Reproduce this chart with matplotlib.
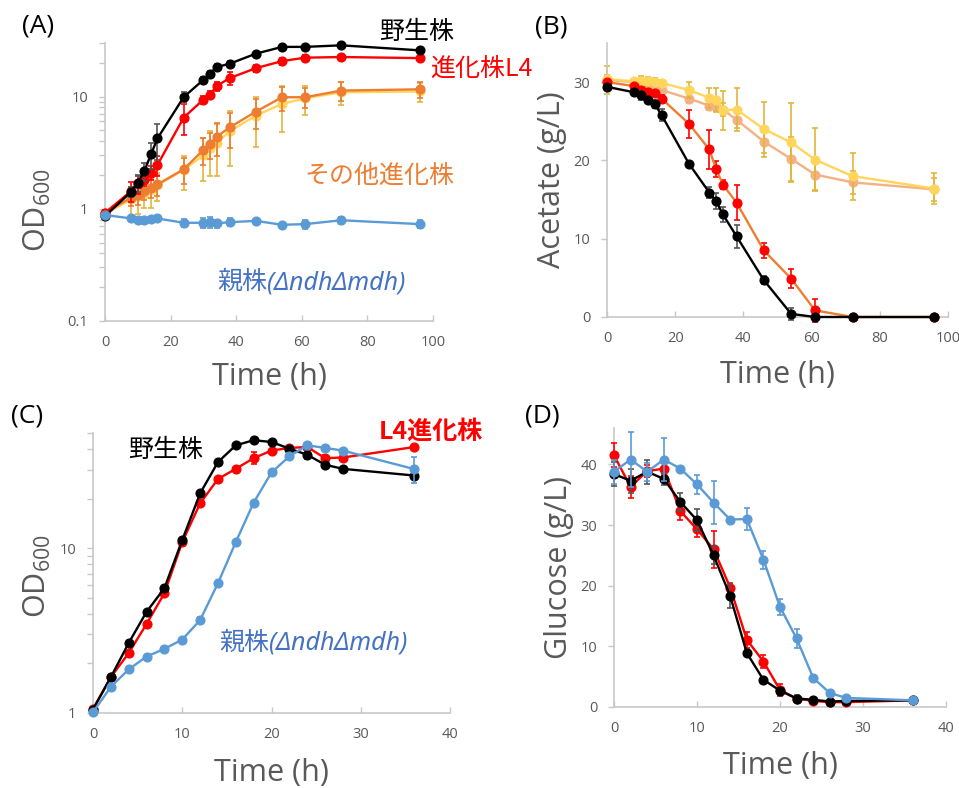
#!/usr/bin/env python3
"""Growth / substrate consumption of evolved strains (4 panels)."""

import matplotlib as mpl
import matplotlib.pyplot as plt
from matplotlib.offsetbox import AnnotationBbox, HPacker, TextArea
from matplotlib.ticker import FixedLocator, NullFormatter

W, H = 959, 788

BLACK = "#000000"
RED = "#ff0000"
ORANGE = "#ed7d31"
YELLOW = "#ffd55c"
YELLOW_ERR = "#e3b53a"
SALMON = "#f4b183"
BLUE = "#5b9bd5"
BLUE_TEXT = "#4472c4"
GRAY = "#595959"
AXIS_GRAY = "#c8c8c8"
CJK = ["Noto Sans CJK JP", "DejaVu Sans"]
LATIN = ["Open Sans", "DejaVu Sans"]

# (A) OD600 on acetate
A_TIME = [0, 8, 10, 12, 14, 16, 24, 30, 32, 34, 38, 46, 54, 61, 72, 96]
A_WT = [0.86, 1.42, 1.71, 2.17, 3.05, 4.24, 9.9, 14.1, 16.0, 18.3, 19.6, 24.1, 27.7, 27.7, 28.6, 25.8]
A_WT_ERR = [0.05, 0.15, 0.3, 0.4, 0.8, 1.5, 1.0, 0.8, 0.8, 1.0, 1.0, 1.0, 1.2, 1.0, 1.5, 1.5]
A_L4 = [0.92, 1.44, 1.65, 1.79, 2.1, 2.46, 6.5, 9.4, 10.4, 12.4, 14.6, 17.9, 20.7, 22.2, 22.5, 22.0]
A_L4_ERR = [0.05, 0.3, 0.3, 0.2, 0.3, 0.5, 2.0, 0.8, 0.8, 1.2, 2.0, 1.2, 1.5, 1.2, 1.0, 1.0]
A_OTHER1 = [0.92, 1.26, 1.34, 1.44, 1.54, 1.65, 2.25, 3.35, 3.77, 4.38, 5.31, 7.34, 9.86, 9.86, 11.3, 11.6]
A_OTHER1_ERR = [0.05, 0.2, 0.25, 0.25, 0.3, 0.35, 0.6, 0.9, 1.0, 1.4, 1.8, 2.2, 2.4, 2.0, 2.2, 1.8]
A_OTHER2 = [0.9, 1.21, 1.30, 1.36, 1.47, 1.62, 2.22, 3.0, 3.47, 3.85, 4.9, 6.76, 8.6, 9.66, 10.9, 11.1]
A_OTHER2_ERR = [0.08, 0.35, 0.4, 0.35, 0.45, 0.45, 0.75, 1.25, 1.5, 1.9, 2.5, 3.2, 3.8, 2.8, 2.5, 2.2]
A_PARENT = [0.88, 0.82, 0.80, 0.79, 0.81, 0.82, 0.75, 0.75, 0.76, 0.74, 0.76, 0.78, 0.72, 0.73, 0.79, 0.73]
A_PARENT_ERR = [0.03, 0.04, 0.03, 0.03, 0.04, 0.03, 0.06, 0.07, 0.08, 0.06, 0.06, 0.03, 0.03, 0.07, 0.06, 0.06]

# (B) acetate (g/L)
B_TIME = A_TIME
B_WT = [29.4, 28.7, 28.3, 27.7, 27.2, 25.8, 19.6, 15.9, 14.8, 13.1, 10.3, 4.7, 0.4, 0.0, 0.0, 0.0]
B_WT_ERR = [0.3, 0.4, 0.6, 0.4, 0.5, 0.8, 0.3, 0.7, 1.0, 1.0, 1.5, 0.5, 0.8, 0.1, 0.1, 0.1]
B_L4 = [30.0, 29.5, 29.0, 28.7, 28.6, 27.9, 24.7, 21.4, 18.9, 16.9, 14.6, 8.5, 4.9, 0.85, 0.0, 0.0]
B_L4_ERR = [0.3, 0.3, 0.3, 0.3, 0.3, 0.5, 1.8, 2.5, 1.0, 0.6, 2.2, 1.0, 1.2, 1.5, 0.0, 0.0]
B_OTHER1 = [30.3, 30.0, 29.8, 29.6, 29.4, 29.0, 27.9, 27.0, 26.9, 26.5, 25.2, 22.4, 20.2, 18.2, 17.2, 16.3]
B_OTHER1_ERR = [1.8, 0.3, 0.5, 0.5, 0.5, 0.5, 0.6, 0.6, 0.6, 0.8, 1.0, 1.5, 2.8, 2.0, 1.5, 1.5]
B_OTHER2 = [30.4, 30.1, 30.2, 30.1, 30.0, 29.9, 29.0, 28.0, 27.7, 26.4, 26.5, 24.0, 22.3, 20.1, 18.0, 16.4]
B_OTHER2_ERR = [0.5, 0.3, 0.6, 0.6, 0.5, 0.4, 1.0, 1.3, 1.5, 2.5, 2.8, 3.5, 5.0, 4.0, 3.0, 2.0]

# (C) OD600 on glucose
C_TIME = [0, 2, 4, 6, 8, 10, 12, 14, 16, 18, 20, 22, 24, 26, 28, 36]
C_WT = [1.05, 1.65, 2.66, 4.11, 5.72, 11.2, 21.5, 33.3, 42.1, 45.2, 44.1, 40.2, 36.9, 32.1, 30.3, 27.6]
C_WT_ERR = [0.02, 0.05, 0.08, 0.1, 0.15, 0.3, 0.6, 0.8, 1.0, 1.0, 1.5, 1.0, 2.0, 1.0, 0.8, 0.8]
C_L4 = [1.06, 1.65, 2.31, 3.47, 5.33, 10.9, 18.7, 26.3, 30.3, 35.2, 39.1, 40.6, 41.1, 35.2, 35.5, 41.1]
C_L4_ERR = [0.02, 0.05, 0.08, 0.12, 0.15, 0.3, 0.5, 0.8, 0.8, 3.0, 1.0, 1.0, 1.0, 1.5, 1.5, 0.8]
C_PARENT = [1.01, 1.44, 1.84, 2.2, 2.45, 2.79, 3.66, 6.13, 10.9, 18.9, 28.8, 36.1, 42.1, 40.6, 39.1, 30.2]
C_PARENT_ERR = [0.02, 0.04, 0.05, 0.05, 0.05, 0.06, 0.15, 0.15, 0.3, 0.5, 0.8, 1.5, 1.0, 1.0, 1.0, 5.5]

# (D) glucose (g/L)
D_TIME = C_TIME
D_WT = [38.4, 37.3, 38.8, 37.6, 33.8, 30.8, 25.0, 18.3, 8.9, 4.5, 2.7, 1.4, 1.2, 0.9, 1.0, 1.1]
D_WT_ERR = [2.0, 2.0, 2.0, 1.0, 1.5, 1.8, 1.5, 2.0, 0.5, 0.5, 0.5, 0.5, 0.3, 0.3, 0.3, 0.3]
D_L4 = [41.5, 36.3, 38.9, 39.3, 32.3, 29.3, 26.0, 19.7, 11.1, 7.5, 2.8, 1.4, 1.0, 0.8, 0.8, 1.1]
D_L4_ERR = [2.0, 1.8, 1.0, 1.0, 1.5, 1.2, 3.0, 0.7, 1.3, 1.0, 1.0, 0.3, 0.2, 0.2, 0.2, 0.2]
D_PARENT = [38.8, 40.8, 38.8, 40.8, 39.3, 36.7, 33.7, 30.9, 31.0, 24.3, 16.5, 11.3, 4.8, 2.3, 1.5, 1.1]
D_PARENT_ERR = [2.0, 4.5, 1.5, 3.5, 0.3, 1.5, 3.5, 0.3, 1.8, 1.5, 1.3, 1.5, 0.3, 0.3, 0.2, 0.2]


def fig_xy(x, y):
    return x / W, 1 - y / H


def add_axes(fig, left, top, right, bottom):
    return fig.add_axes([left / W, 1 - bottom / H, (right - left) / W, (bottom - top) / H])


def series(ax, t, y, err, color, mcolor=None, ecolor=None, zorder=2):
    ax.errorbar(
        t, y, yerr=err, color=color, lw=1.7, marker="o", ms=6.3,
        mfc=mcolor or color, mec=mcolor or color,
        ecolor=ecolor or mcolor or color, elinewidth=1.2, capsize=2.5, capthick=1.2,
        zorder=zorder, clip_on=False,
    )


def style(ax, xlabel, ylabel, xlab_pos, ylab_pos):
    for s in ["top", "right"]:
        ax.spines[s].set_visible(False)
    for s in ["left", "bottom"]:
        ax.spines[s].set_color(AXIS_GRAY)
        ax.spines[s].set_linewidth(1.2)
    ax.tick_params(axis="x", direction="in", length=4, width=1, color=AXIS_GRAY,
                   labelsize=10.5, labelcolor=GRAY, pad=10)
    ax.tick_params(axis="y", which="major", direction="out", length=4, width=1, color=AXIS_GRAY,
                   labelsize=10.5, labelcolor=GRAY, pad=8)
    ax.tick_params(axis="y", which="minor", direction="out", length=4, width=1, color=AXIS_GRAY)
    for lab in ax.get_xticklabels() + ax.get_yticklabels():
        lab.set_family(LATIN)
    ax.set_xlabel(xlabel, fontsize=22, color=GRAY, family=LATIN)
    ax.xaxis.set_label_coords(*xlab_pos)
    ax.xaxis.label.set_va("center")
    ax.set_ylabel(ylabel, fontsize=22, color=GRAY, family=LATIN)
    ax.yaxis.set_label_coords(*ylab_pos)
    ax.yaxis.label.set_va("center")


def parent_label(fig, x, y):
    box = HPacker(
        children=[
            TextArea("親株", textprops=dict(color=BLUE_TEXT, fontsize=18, family=CJK)),
            TextArea("(ΔndhΔmdh)", textprops=dict(color=BLUE_TEXT, fontsize=18,
                                                  family=["Noto Sans", "DejaVu Sans"], style="italic")),
        ],
        align="baseline", pad=0, sep=0,
    )
    fig.add_artist(AnnotationBbox(box, fig_xy(x, y), xycoords="figure fraction",
                                  box_alignment=(0, 0.5), frameon=False, pad=0))


def main():
    mpl.rcParams.update(
        {
            "mathtext.fontset": "custom",
            "mathtext.rm": "Open Sans",
            "mathtext.it": "Open Sans:italic",
            "mathtext.default": "regular",
        }
    )
    fig = plt.figure(figsize=(W / 100, H / 100), dpi=100)

    # (A)
    ax = add_axes(fig, 105, 43, 433, 321)
    series(ax, A_TIME, A_OTHER2, A_OTHER2_ERR, YELLOW, ecolor=YELLOW_ERR, zorder=2)
    series(ax, A_TIME, A_OTHER1, A_OTHER1_ERR, ORANGE, zorder=3)
    series(ax, A_TIME, A_L4, A_L4_ERR, RED, zorder=4)
    series(ax, A_TIME, A_WT, A_WT_ERR, BLACK, ecolor="#555555", zorder=5)
    series(ax, A_TIME, A_PARENT, A_PARENT_ERR, BLUE, zorder=6)
    ax.set_yscale("log")
    ax.set_ylim(0.1, 30)
    ax.set_xlim(0, 100)
    ax.set_xticks(range(0, 101, 20))
    ax.yaxis.set_major_locator(FixedLocator([0.1, 1, 10]))
    ax.set_yticklabels(["0.1", "1", "10"])
    ax.yaxis.set_minor_locator(FixedLocator([0.2, 0.3, 0.4, 0.5, 0.6, 0.7, 0.8, 0.9,
                                             2, 3, 4, 5, 6, 7, 8, 9, 20, 30]))
    ax.yaxis.set_minor_formatter(NullFormatter())
    style(ax, "Time (h)", "OD$_{600}$", (0.5, -0.20), (-0.205, 0.40))

    # (B)
    ax = add_axes(fig, 607, 43, 948, 317)
    series(ax, B_TIME, B_OTHER1, B_OTHER1_ERR, SALMON, ecolor=YELLOW_ERR, zorder=2)
    series(ax, B_TIME, B_OTHER2, B_OTHER2_ERR, YELLOW, ecolor=YELLOW_ERR, zorder=3)
    series(ax, B_TIME, B_L4, B_L4_ERR, ORANGE, mcolor=RED, zorder=4)
    series(ax, B_TIME, B_WT, B_WT_ERR, BLACK, ecolor="#555555", zorder=5)
    ax.set_ylim(0, 35)
    ax.set_xlim(0, 100)
    ax.set_xticks(range(0, 101, 20))
    ax.set_yticks([0, 10, 20, 30])
    style(ax, "Time (h)", "Acetate (g/L)", (0.5, -0.21), (-0.16, 0.50))

    # (C)
    ax = add_axes(fig, 93, 433, 450, 713)
    series(ax, C_TIME, C_L4, C_L4_ERR, RED, zorder=3)
    series(ax, C_TIME, C_WT, C_WT_ERR, BLACK, ecolor="#555555", zorder=4)
    series(ax, C_TIME, C_PARENT, C_PARENT_ERR, BLUE, zorder=5)
    ax.set_yscale("log")
    ax.set_ylim(1, 50)
    ax.set_xlim(0, 40)
    ax.set_xticks(range(0, 41, 10))
    ax.yaxis.set_major_locator(FixedLocator([1, 10]))
    ax.set_yticklabels(["1", "10"])
    ax.yaxis.set_minor_locator(FixedLocator([2, 3, 4, 5, 6, 7, 8, 9, 20, 30, 40, 50]))
    ax.yaxis.set_minor_formatter(NullFormatter())
    style(ax, "Time (h)", "OD$_{600}$", (0.5, -0.215), (-0.155, 0.49))

    # (D)
    ax = add_axes(fig, 614, 428, 946, 707)
    series(ax, D_TIME, D_L4, D_L4_ERR, RED, zorder=3)
    series(ax, D_TIME, D_WT, D_WT_ERR, BLACK, ecolor="#555555", zorder=4)
    series(ax, D_TIME, D_PARENT, D_PARENT_ERR, BLUE, zorder=5)
    ax.set_ylim(0, 46)
    ax.set_xlim(0, 40)
    ax.set_xticks(range(0, 41, 10))
    ax.set_yticks([0, 10, 20, 30, 40])
    style(ax, "Time (h)", "Glucose (g/L)", (0.5, -0.21), (-0.166, 0.50))

    # panel letters
    for letter, (x, y) in {"(A)": (38, 26), "(B)": (551, 27), "(C)": (27, 416), "(D)": (542, 416)}.items():
        fig.text(*fig_xy(x, y), letter, fontsize=19, family=LATIN, ha="center", va="center")

    # annotations
    fig.text(*fig_xy(417, 32), "野生株", fontsize=18, family=CJK, ha="center", va="center")
    fig.text(*fig_xy(481, 70), "進化株L4", fontsize=18, family=CJK, color=RED, ha="center", va="center")
    fig.text(*fig_xy(379, 176), "その他進化株", fontsize=18, family=CJK, color=ORANGE, ha="center", va="center")
    parent_label(fig, 217, 282)
    fig.text(*fig_xy(166, 450), "野生株", fontsize=18, family=CJK, ha="center", va="center")
    fig.text(*fig_xy(431, 432), "L4進化株", fontsize=18, family=CJK, color=RED, weight="bold",
             ha="center", va="center")
    parent_label(fig, 219, 643)

    fig.savefig("out.png", dpi=100)


if __name__ == "__main__":
    main()
